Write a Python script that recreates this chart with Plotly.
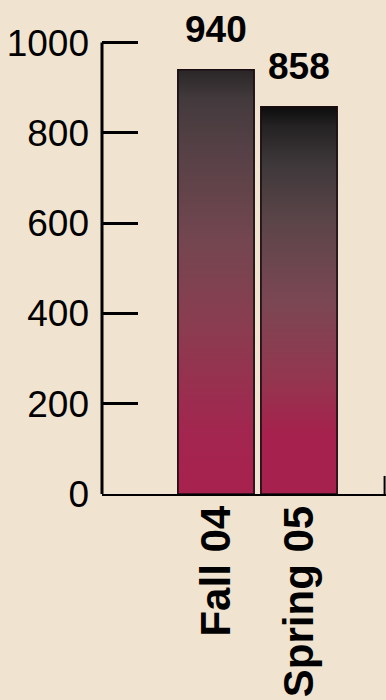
import plotly.graph_objects as go

categories = ["Fall 04", "Spring 05"]
values = [940, 858]
y_ticks = [0, 200, 400, 600, 800, 1000]

BG = "#F0E3CF"
FONT = "Liberation Sans, Arial, sans-serif"
BAR_W = 0.916

gradients = [
    [[0.0, "#a8214e"], [0.15, "#a2264f"], [0.4, "#8a3d50"], [0.6, "#734650"],
     [0.8, "#574146"], [0.93, "#433a3d"], [1.0, "#2a2627"]],
    [[0.0, "#a6214d"], [0.15, "#a6214d"], [0.3, "#93364f"], [0.5, "#7a4753"],
     [0.7, "#5c4549"], [0.85, "#3f383a"], [0.95, "#242223"], [1.0, "#0d0d0d"]],
]

xs = list(range(len(categories)))

fig = go.Figure()
fig.add_trace(go.Bar(
    x=xs, y=values, width=BAR_W,
    marker=dict(color="#a6214d", line=dict(color="#1a0c10", width=1.5)),
    hoverinfo="skip", showlegend=False,
))

for i, (xv, v) in enumerate(zip(xs, values)):
    h = BAR_W / 2
    fig.add_trace(go.Scatter(
        x=[xv - h, xv + h, xv + h, xv - h, xv - h],
        y=[0, 0, v, v, 0],
        mode="lines", fill="toself",
        line=dict(color="#1a0c10", width=1.5),
        fillgradient=dict(type="vertical", colorscale=gradients[i], start=0, stop=v),
        hoverinfo="skip", showlegend=False,
    ))
    fig.add_annotation(
        x=xv, y=v, text=f"<b>{v}</b>", showarrow=False,
        yanchor="bottom", yshift=18,
        font=dict(family=FONT, size=37, color="black"),
    )

# y axis spine only spanning the tick range
fig.add_shape(type="line", xref="paper", yref="y", x0=0, x1=0,
              y0=y_ticks[0], y1=y_ticks[-1], line=dict(color="black", width=3))
# small upright tick at right end of baseline
fig.add_shape(type="line", xref="paper", yref="y", x0=0.995, x1=0.995, y0=0, y1=40,
              line=dict(color="black", width=2))

fig.update_layout(
    width=386, height=700,
    margin=dict(l=102, r=0, t=2, b=206),
    paper_bgcolor=BG, plot_bgcolor=BG,
    showlegend=False,
    font=dict(family=FONT, color="black"),
)
fig.update_xaxes(
    range=[-1.373, 2.048], tickmode="array", tickvals=xs, ticktext=categories,
    tickangle=-90, showgrid=False, zeroline=False, automargin=False,
    showline=True, linecolor="black", linewidth=2, ticks="",
    tickfont=dict(family=FONT, size=42, color="black", weight="bold"),
    ticklabelstandoff=-7,
)
fig.update_yaxes(
    range=[0, 1090], tickmode="array", tickvals=y_ticks,
    showgrid=False, zeroline=False, automargin=False,
    showline=False,
    ticks="inside", ticklen=36, tickwidth=3, tickcolor="black",
    tickfont=dict(family=FONT, size=37, color="black"),
    ticklabelstandoff=12,
)

fig.write_html("out.html")
